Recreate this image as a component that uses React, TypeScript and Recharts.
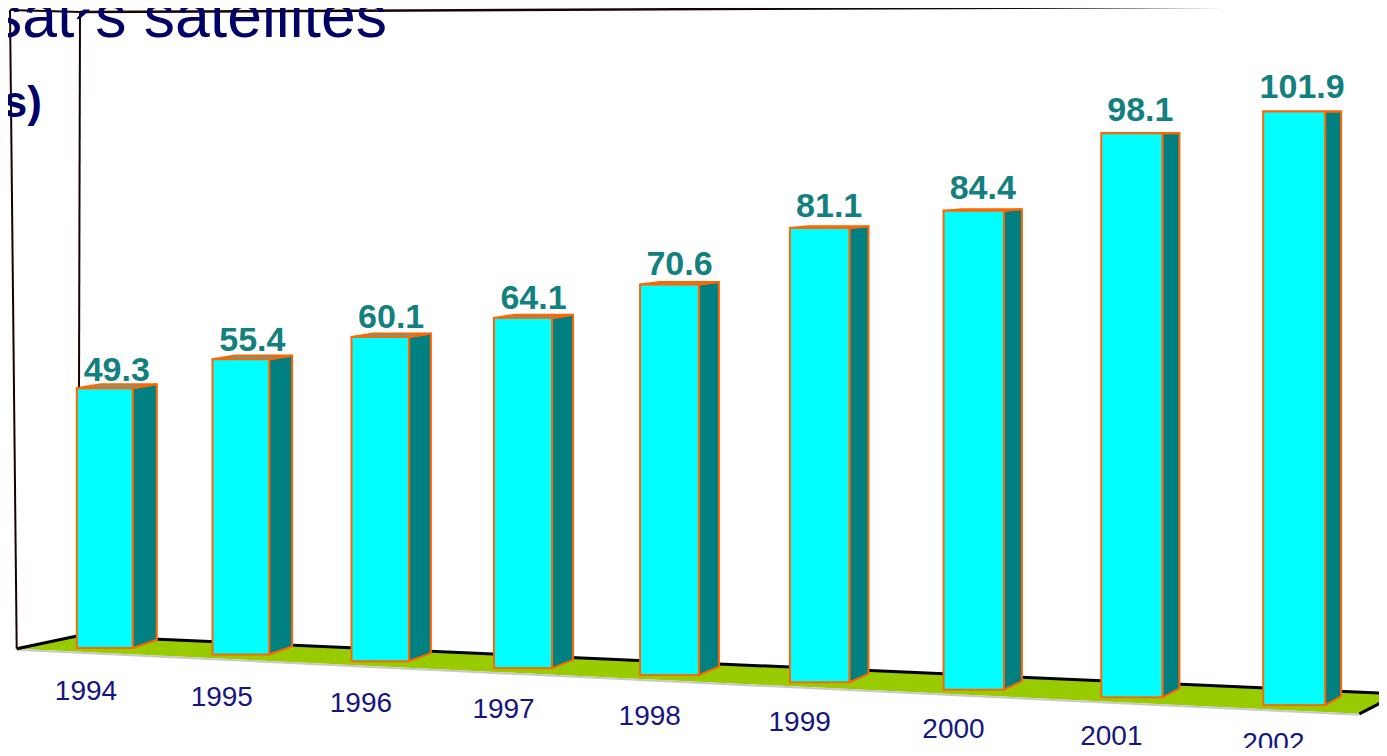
import { BarChart, Bar, XAxis, YAxis, LabelList } from 'recharts';

const years = ['1994', '1995', '1996', '1997', '1998', '1999', '2000', '2001', '2002'];
const values = [49.3, 55.4, 60.1, 64.1, 70.6, 81.1, 84.4, 98.1, 101.9];

const data = years.map((year, i) => ({ year, value: values[i] }));

// fake perspective: flat recharts coords -> projected screen coords
const X0 = 105;
const HY = 110;
const ALPHA = 8.93e-5;
const SPAN = 1075;

const k = (x: number) => 1 / (1 - ALPHA * (x - X0));
const px = (x: number) => X0 + (x - X0) * k(x);
const py = (x: number, y: number) => HY + (y - HY) * k(x);
const sideDx = (x: number) => 24 - (8 * (x - X0)) / SPAN;
const backDy = (y: number) => -(y - HY) * 0.0148;

const FONT = "'Liberation Sans', Arial, sans-serif";

function Bar3D(props: any) {
  const { x, y, width, height } = props;
  const xc = x + width / 2;
  const kk = k(xc);
  const Xc = px(xc);
  const hw = (width / 2) * kk;
  const L = Xc - hw;
  const R = Xc + hw;
  const T = py(xc, y);
  const B = py(xc, y + height);
  const sd = sideDx(xc);
  const tb = T + backDy(T);
  const bb = B + backDy(B);
  const stroke = '#ff6600';
  return (
    <g>
      <polygon
        points={`${R},${T} ${R + sd},${tb} ${R + sd},${bb} ${R},${B}`}
        fill="#008080"
        stroke={stroke}
        strokeWidth={2}
        strokeLinejoin="round"
      />
      <polygon
        points={`${L},${T} ${L + sd},${tb} ${R + sd},${tb} ${R},${T}`}
        fill="#5f9f95"
        stroke={stroke}
        strokeWidth={2}
        strokeLinejoin="round"
      />
      <rect x={L} y={T} width={R - L} height={B - T} fill="#00ffff" stroke={stroke} strokeWidth={2} />
    </g>
  );
}

function ValueLabel(props: any) {
  const { x, y, width, value } = props;
  const xc = x + width / 2;
  const kk = k(xc);
  const Xc = px(xc);
  const L = Xc - (width / 2) * kk;
  const R = Xc + (width / 2) * kk + sideDx(xc);
  const T = py(xc, y);
  const t = (xc - X0) / SPAN;
  return (
    <text
      x={(L + R) / 2}
      y={T - 7 - 6 * t}
      textAnchor="middle"
      fill="#138080"
      fontSize={34}
      fontWeight="bold"
      fontFamily={FONT}
    >
      {value}
    </text>
  );
}

function YearTick(props: any) {
  const { x, payload } = props;
  const kk = k(x);
  const B = py(x, 648);
  const t = (x - X0) / SPAN;
  return (
    <text
      x={px(x) - 19 * kk}
      y={B + 52 - 5 * t}
      textAnchor="middle"
      fill="#161680"
      fontSize={28}
      fontFamily={FONT}
    >
      {payload.value}
    </text>
  );
}

function Frame() {
  // floor from the same projection
  const fl = 16;
  const fr = 1233;
  const fy = 653;
  const FL = [px(fl), py(fl, fy)];
  const FR = [px(fr), py(fr, fy)];
  const BL = [FL[0] + 2.5 * sideDx(fl), FL[1] - 13];
  const BR = [FR[0] + 2.5 * sideDx(fr), FR[1] - 20];
  const wall = '#1a0202';
  return (
    <svg width={1387} height={756} style={{ position: 'absolute', left: 0, top: 0 }}>
      <polygon
        points={`${FL[0]},${FL[1]} ${BL[0]},${BL[1]} ${BR[0]},${BR[1]} ${FR[0]},${FR[1]}`}
        fill="#99cc00"
      />
      <line x1={FL[0]} y1={FL[1] + 1} x2={FR[0]} y2={FR[1] + 1} stroke="#c8c8c8" strokeWidth={2} />
      <line x1={BL[0]} y1={BL[1]} x2={BR[0]} y2={BR[1]} stroke="#000" strokeWidth={3} />
      <line x1={FL[0]} y1={FL[1]} x2={BL[0]} y2={BL[1]} stroke="#000" strokeWidth={3} />
      <line x1={FR[0]} y1={FR[1]} x2={BR[0]} y2={BR[1]} stroke="#000" strokeWidth={3} />
      <line x1={10} y1={10} x2={FL[0]} y2={FL[1]} stroke={wall} strokeWidth={2} />
      <line x1={10} y1={10} x2={80} y2={12} stroke={wall} strokeWidth={2} />
      <line x1={80} y1={12} x2={BL[0]} y2={BL[1]} stroke={wall} strokeWidth={2} />
      <line x1={80} y1={12} x2={1387} y2={6} stroke={wall} strokeWidth={2.5} />
      <text x={387} y={37} textAnchor="end" fill="#000066" fontSize={62.5} fontFamily={FONT}>
        Intelsat
        <tspan dy={19}>´</tspan>
        <tspan dy={-19}>s satellites</tspan>
      </text>
      <text x={42} y={117} textAnchor="end" fill="#000066" fontSize={44} fontWeight="bold" fontFamily={FONT}>
        (US$ millions)
      </text>
    </svg>
  );
}

export default function App() {
  return (
    <div style={{ position: 'relative', width: 1387, height: 756, margin: -8, overflow: 'hidden', background: '#fff' }}>
      <Frame />
      <div style={{ position: 'absolute', left: 0, top: 0 }}>
        <BarChart
          width={1387}
          height={756}
          data={data}
          margin={{ top: 16, right: 139.6, left: 37.8, bottom: 78 }}
        >
          <XAxis dataKey="year" height={30} axisLine={false} tickLine={false} interval={0} tick={<YearTick />} />
          <YAxis hide domain={[0, 120]} />
          <Bar dataKey="value" barSize={56} shape={<Bar3D />} isAnimationActive={false}>
            <LabelList dataKey="value" content={<ValueLabel />} />
          </Bar>
        </BarChart>
      </div>
    </div>
  );
}
